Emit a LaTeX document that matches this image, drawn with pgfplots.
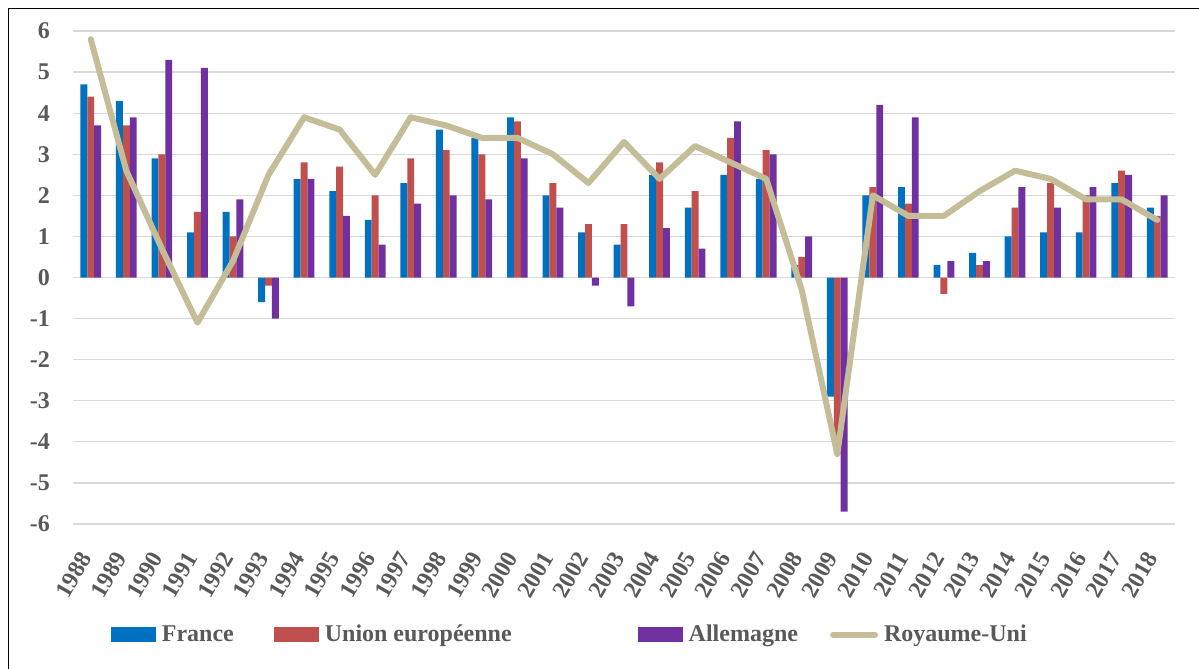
\documentclass[border=0pt]{standalone}
\usepackage{fontspec}
\setmainfont{Liberation Serif}
\usepackage{pgfplots}
\pgfplotsset{compat=1.18}
\usepackage{pgfplotstable}

\definecolor{fr}{HTML}{0070C0}
\definecolor{ue}{HTML}{C0504D}
\definecolor{de}{HTML}{7030A0}
\definecolor{ru}{HTML}{C4BD97}
\definecolor{txt}{HTML}{595959}
\definecolor{grd}{HTML}{D9D9D9}

% idx year France UE Allemagne RoyaumeUni
\pgfplotstableread{
idx year fr ue de ru
0  1988 4.7 4.4 3.7 5.8
1  1989 4.3 3.7 3.9 2.6
2  1990 2.9 3.0 5.3 0.7
3  1991 1.1 1.6 5.1 -1.1
4  1992 1.6 1.0 1.9 0.4
5  1993 -0.6 -0.2 -1.0 2.5
6  1994 2.4 2.8 2.4 3.9
7  1995 2.1 2.7 1.5 3.6
8  1996 1.4 2.0 0.8 2.5
9  1997 2.3 2.9 1.8 3.9
10 1998 3.6 3.1 2.0 3.7
11 1999 3.4 3.0 1.9 3.4
12 2000 3.9 3.8 2.9 3.4
13 2001 2.0 2.3 1.7 3.0
14 2002 1.1 1.3 -0.2 2.3
15 2003 0.8 1.3 -0.7 3.3
16 2004 2.5 2.8 1.2 2.4
17 2005 1.7 2.1 0.7 3.2
18 2006 2.5 3.4 3.8 2.8
19 2007 2.4 3.1 3.0 2.4
20 2008 0.3 0.5 1.0 -0.3
21 2009 -2.9 -4.3 -5.7 -4.3
22 2010 2.0 2.2 4.2 2.0
23 2011 2.2 1.8 3.9 1.5
24 2012 0.3 -0.4 0.4 1.5
25 2013 0.6 0.3 0.4 2.1
26 2014 1.0 1.7 2.2 2.6
27 2015 1.1 2.3 1.7 2.4
28 2016 1.1 2.0 2.2 1.9
29 2017 2.3 2.6 2.5 1.9
30 2018 1.7 1.5 2.0 1.4
}\gdp

\begin{document}
\begin{tikzpicture}
\useasboundingbox (-36.5pt,-72.5pt) rectangle (563pt,262pt);
\begin{axis}[
    scale only axis,
    width=551pt, height=246.5pt,
    xmin=-0.5, xmax=30.5, ymin=-6, ymax=6,
    ytick={-6,...,6},
    xtick={0,...,30},
    xticklabels={1988,1989,1990,1991,1992,1993,1994,1995,1996,1997,1998,1999,2000,2001,2002,2003,2004,2005,2006,2007,2008,2009,2010,2011,2012,2013,2014,2015,2016,2017,2018},
    axis line style={draw=none},
    major tick length=0pt,
    ymajorgrids, grid style={grd, line width=0.65pt},
    tick label style={font=\fontsize{12}{14}\selectfont\bfseries, text=txt},
    /pgf/number format/assume math mode=true,
    yticklabel style={anchor=east, xshift=-8pt},
    xticklabel style={xshift=-1pt, yshift=-12pt, rotate=60, anchor=east},
    ybar=0pt, bar width=3.45pt,
    legend style={draw=none, fill=none, inner sep=0pt,
        at={(axis description cs:0.034,-0.225)}, anchor=west,
        font=\fontsize{12}{14}\selectfont\bfseries, text=txt,
        legend columns=4,
        /tikz/every even column/.append style={column sep=0pt},
        /tikz/every odd column/.append style={column sep=1pt}},
    legend cell align=left,
]
\addplot[fill=fr, draw=none, area legend,
    legend image code/.code={\fill[fr] (0pt,-3.75pt) rectangle (22.5pt,3.75pt);}]
    table[x=idx, y=fr] {\gdp};
\addlegendentry{France\hspace*{18pt}}
\addplot[fill=ue, draw=none, area legend,
    legend image code/.code={\fill[ue] (0pt,-3.75pt) rectangle (22.5pt,3.75pt);}]
    table[x=idx, y=ue] {\gdp};
\addlegendentry{Union européenne\hspace*{61pt}}
\addplot[fill=de, draw=none, area legend,
    legend image code/.code={\fill[de] (0pt,-3.75pt) rectangle (22.5pt,3.75pt);}]
    table[x=idx, y=de] {\gdp};
\addlegendentry{Allemagne\hspace*{14pt}}
\addplot[sharp plot, ru, line width=3pt, line join=round, line cap=round, mark=none,
    legend image code/.code={\draw[ru, line width=3pt, line cap=round] (1.5pt,0pt) -- (22.5pt,0pt);}]
    table[x=idx, y=ru] {\gdp};
\addlegendentry{Royaume-Uni}
\end{axis}
\draw[black, line width=0.8pt] (-32.25pt,-72.5pt) -- (-32.25pt,257.75pt) -- (563pt,257.75pt);
\end{tikzpicture}
\end{document}
